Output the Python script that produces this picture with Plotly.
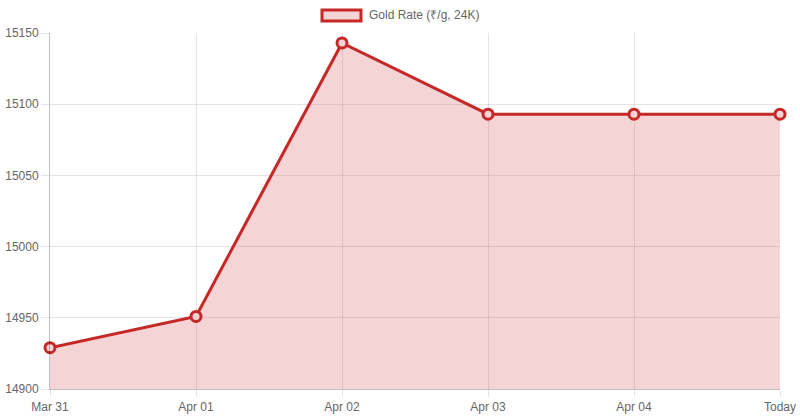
import plotly.graph_objects as go

labels = ["Mar 31", "Apr 01", "Apr 02", "Apr 03", "Apr 04", "Today"]
rates = [14929, 14951, 15143, 15093, 15093, 15093]
y_ticks = [14900, 14950, 15000, 15050, 15100, 15150]
series_name = "Gold Rate (₹/g, 24K)"

LINE = "rgb(198,40,40)"
FILL = "rgba(198,40,40,0.2)"
FONT = dict(family="Liberation Sans, Arial, sans-serif", size=12, color="#666")

fig = go.Figure()
fig.add_trace(go.Scatter(
    x=labels, y=rates, mode="lines+markers", name=series_name,
    line=dict(color=LINE, width=3),
    fill="tozeroy", fillcolor=FILL,
    marker=dict(size=10, color="rgba(244,212,212,1)", line=dict(color=LINE, width=3)),
    cliponaxis=False, showlegend=False,
))

fig.update_layout(
    width=800, height=420,
    margin=dict(l=50, r=20, t=33, b=31, autoexpand=False),
    paper_bgcolor="white", plot_bgcolor="white",
    font=FONT,
    xaxis=dict(
        type="category", range=[0, len(labels) - 1], automargin=False,
        showgrid=True, gridcolor="rgba(0,0,0,0.1)", gridwidth=1,
        showline=True, linecolor="rgba(0,0,0,0.25)", linewidth=1,
        ticks="outside", ticklen=7, tickcolor="rgba(0,0,0,0.1)",
        zeroline=False, tickfont=FONT,
    ),
    yaxis=dict(
        range=[14900, 15150], tickvals=y_ticks, automargin=False,
        ticktext=[str(v) for v in y_ticks],
        showgrid=True, gridcolor="rgba(0,0,0,0.1)", gridwidth=1,
        showline=True, linecolor="rgba(0,0,0,0.25)", linewidth=1,
        ticks="outside", ticklen=8, tickcolor="rgba(0,0,0,0.1)",
        zeroline=False, tickfont=FONT,
    ),
    showlegend=False,
)

# Legend (Chart.js style box + label)
fig.add_shape(type="rect", xref="paper", yref="paper",
              x0=(322 - 50) / 730, x1=(361 - 50) / 730,
              y0=(389 - 21) / 356, y1=(389 - 10) / 356,
              fillcolor="rgba(244,212,212,1)", line=dict(color=LINE, width=3))
fig.add_annotation(xref="paper", yref="paper",
                   x=(367 - 50) / 730, y=(389 - 15.5) / 356,
                   xanchor="left", yanchor="middle", showarrow=False,
                   text=series_name, font=FONT)

fig.write_html("out.html", config={"displayModeBar": False},
               post_script="document.body.style.margin='0';")
